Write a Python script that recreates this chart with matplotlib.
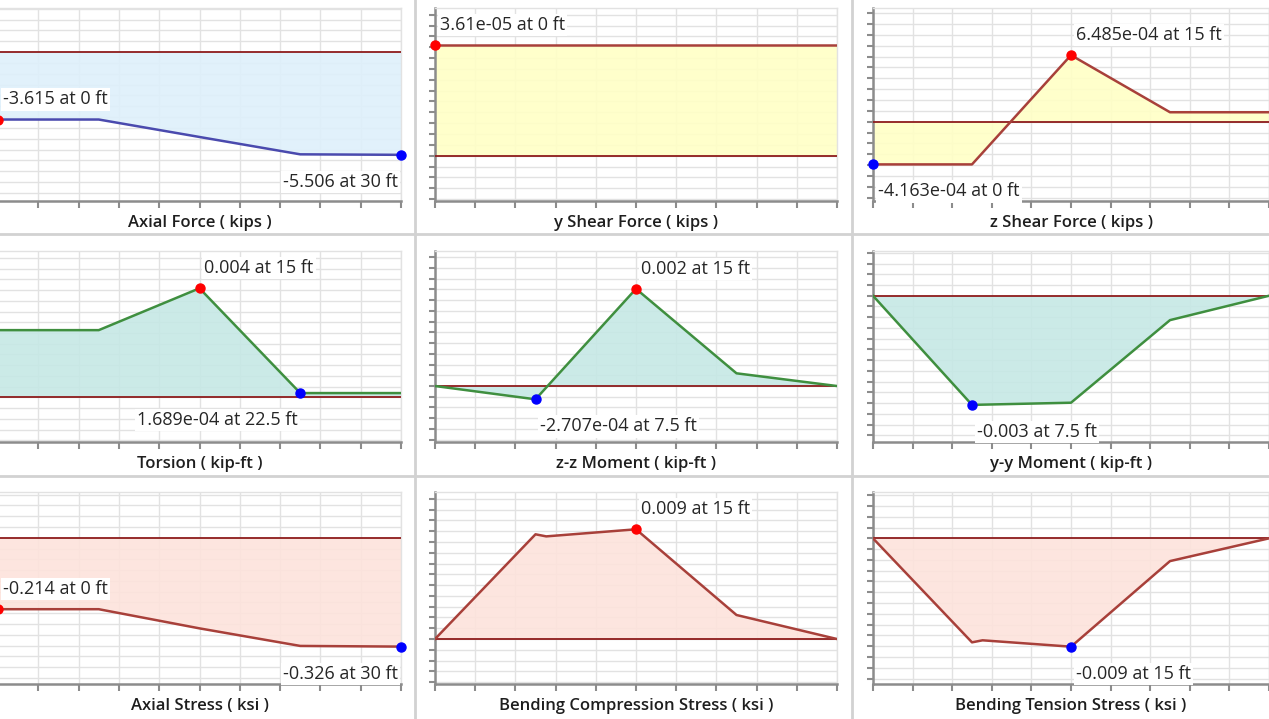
import numpy as np
import matplotlib
matplotlib.use("Agg")
import matplotlib.pyplot as plt
from matplotlib.ticker import MultipleLocator
from matplotlib.lines import Line2D

plt.rcParams['font.family'] = ['Open Sans', 'DejaVu Sans']

W, H = 1269, 719

# stations along the member (ft)
stations = [0, 7.5, 15, 22.5, 30]
stations_bend = [0, 7.5, 8.3, 15, 22.5, 30]

axial_force = [-3.615, -3.615, -4.55, -5.48, -5.506]
y_shear = [3.61e-05, 3.61e-05, 3.61e-05, 3.61e-05, 3.61e-05]
z_shear = [-4.163e-04, -4.163e-04, 6.485e-04, 9.2e-05, 9.2e-05]
torsion = [0.00265, 0.00265, 0.0043, 1.689e-04, 1.689e-04]
zz_moment = [0.0, -2.707e-04, 0.00198, 2.59e-04, 0.0]
yy_moment = [0.0, -0.0030, -0.00294, -6.7e-04, 0.0]
axial_stress = [-0.214, -0.214, -0.2714, -0.324, -0.326]
bend_comp = [0.0, 0.00859, 0.00842, 0.009, 0.00197, 0.0]
bend_tens = [0.0, -0.00864, -0.00847, -0.009, -0.00189, 0.0]

titles = ["Axial Force ( kips )", "y Shear Force ( kips )", "z Shear Force ( kips )",
          "Torsion ( kip-ft )", "z-z Moment ( kip-ft )", "y-y Moment ( kip-ft )",
          "Axial Stress ( ksi )", "Bending Compression Stress ( ksi )", "Bending Tension Stress ( ksi )"]

max_labels = ["-3.615 at 0 ft", "3.61e-05 at 0 ft", "6.485e-04 at 15 ft",
              "0.004 at 15 ft", "0.002 at 15 ft", None,
              "-0.214 at 0 ft", "0.009 at 15 ft", None]
min_labels = ["-5.506 at 30 ft", None, "-4.163e-04 at 0 ft",
              "1.689e-04 at 22.5 ft", "-2.707e-04 at 7.5 ft", "-0.003 at 7.5 ft",
              "-0.326 at 30 ft", None, "-0.009 at 15 ft"]

panels = [
    (stations, axial_force, (-7.98, 2.36), "blue"),
    (stations, y_shear, (-1.48e-5, 4.82e-5), "yellow"),
    (stations, z_shear, (-7.73e-4, 1.108e-3), "yellow"),
    (stations, torsion, (-0.00176, 0.00577), "teal"),
    (stations, zz_moment, (-0.00114, 0.00275), "teal"),
    (stations, yy_moment, (-0.00402, 0.00123), "teal"),
    (stations, axial_stress, (-0.438, 0.137), "salmon"),
    (stations_bend, bend_comp, (-0.00369, 0.01206), "salmon"),
    (stations_bend, bend_tens, (-0.0121, 0.00385), "salmon"),
]

styles = {
    "blue": ("#def0fb", "#4a4aae"),
    "yellow": ("#ffffc6", "#a8403a"),
    "teal": ("#c6e8e5", "#3f8f3f"),
    "salmon": ("#fde3dc", "#a8403a"),
}

col_px = [(-2, 401), (435, 837), (873, 1269)]
row_px = [(8, 201), (251, 442), (492, 684)]

grid_c = "#e2e2e2"
spine_c = "#8c8c8c"
zero_c = "#8e1c1c"

fig = plt.figure(figsize=(W / 100, H / 100), dpi=100)

for i, (xs, ys, ylim, kind) in enumerate(panels):
    r, c = divmod(i, 3)
    x0, x1 = col_px[c]
    y0, y1 = row_px[r]
    ax = fig.add_axes([x0 / W, 1 - y1 / H, (x1 - x0) / W, (y1 - y0) / H])
    fill_c, line_c = styles[kind]
    xs = np.array(xs, dtype=float)
    ys = np.array(ys, dtype=float)

    ax.set_xlim(0, 30)
    ax.set_ylim(*ylim)
    ax.xaxis.set_major_locator(MultipleLocator(3))
    ax.yaxis.set_major_locator(MultipleLocator((ylim[1] - ylim[0]) / 17.8))
    ax.grid(True, color=grid_c, lw=1)
    ax.set_axisbelow(True)
    ax.tick_params(axis='x', length=5, width=1.5, color=spine_c, direction='out', labelbottom=False)
    ax.tick_params(axis='y', length=4, width=1.5, color=spine_c, direction='out', labelleft=False)
    for s in ("top", "right"):
        ax.spines[s].set_color(grid_c)
        ax.spines[s].set_linewidth(1)
    for s in ("left", "bottom"):
        ax.spines[s].set_color(spine_c)
        ax.spines[s].set_linewidth(1.8)

    ax.fill_between(xs, ys, 0, color=fill_c, alpha=0.9, lw=0, zorder=2)
    ax.axhline(0, color=zero_c, lw=1.3, zorder=3)
    ax.plot(xs, ys, color=line_c, lw=1.8, zorder=4)

    def mark(idx, text, colour, above):
        px, py = xs[idx], ys[idx]
        ax.plot([px], [py], 'o', color=colour, ms=6.5, zorder=6, clip_on=False)
        if px > 15:
            dx, ha = -2, 'right'
        else:
            dx, ha = 3.5, 'left'
        dy = 14.5 if above else -19.5
        ax.annotate(text, (px, py), xytext=(dx, dy), textcoords='offset points',
                    ha=ha, va='center', fontsize=13, color='#262626', zorder=7,
                    bbox=dict(fc='white', ec='none', pad=1.5), annotation_clip=False)

    if max_labels[i]:
        mark(int(np.argmax(ys)), max_labels[i], "#ff0000", True)
    if min_labels[i]:
        mark(int(np.argmin(ys)), min_labels[i], "#0000ff", False)

    ax.annotate(titles[i], (0.5, 0), xycoords='axes fraction', xytext=(0, -15.5),
                textcoords='offset points', ha='center', va='center',
                fontsize=12, fontweight='semibold', color='#1e1e1e')

for xp in (415.5, 851.5):
    fig.add_artist(Line2D([xp / W, xp / W], [0, 1], transform=fig.transFigure,
                          color="#d2d2d2", lw=2))
for yp in (234, 475.5):
    fig.add_artist(Line2D([0, 1], [1 - yp / H, 1 - yp / H], transform=fig.transFigure,
                          color="#d2d2d2", lw=2))

fig.savefig("out.png", dpi=100)
